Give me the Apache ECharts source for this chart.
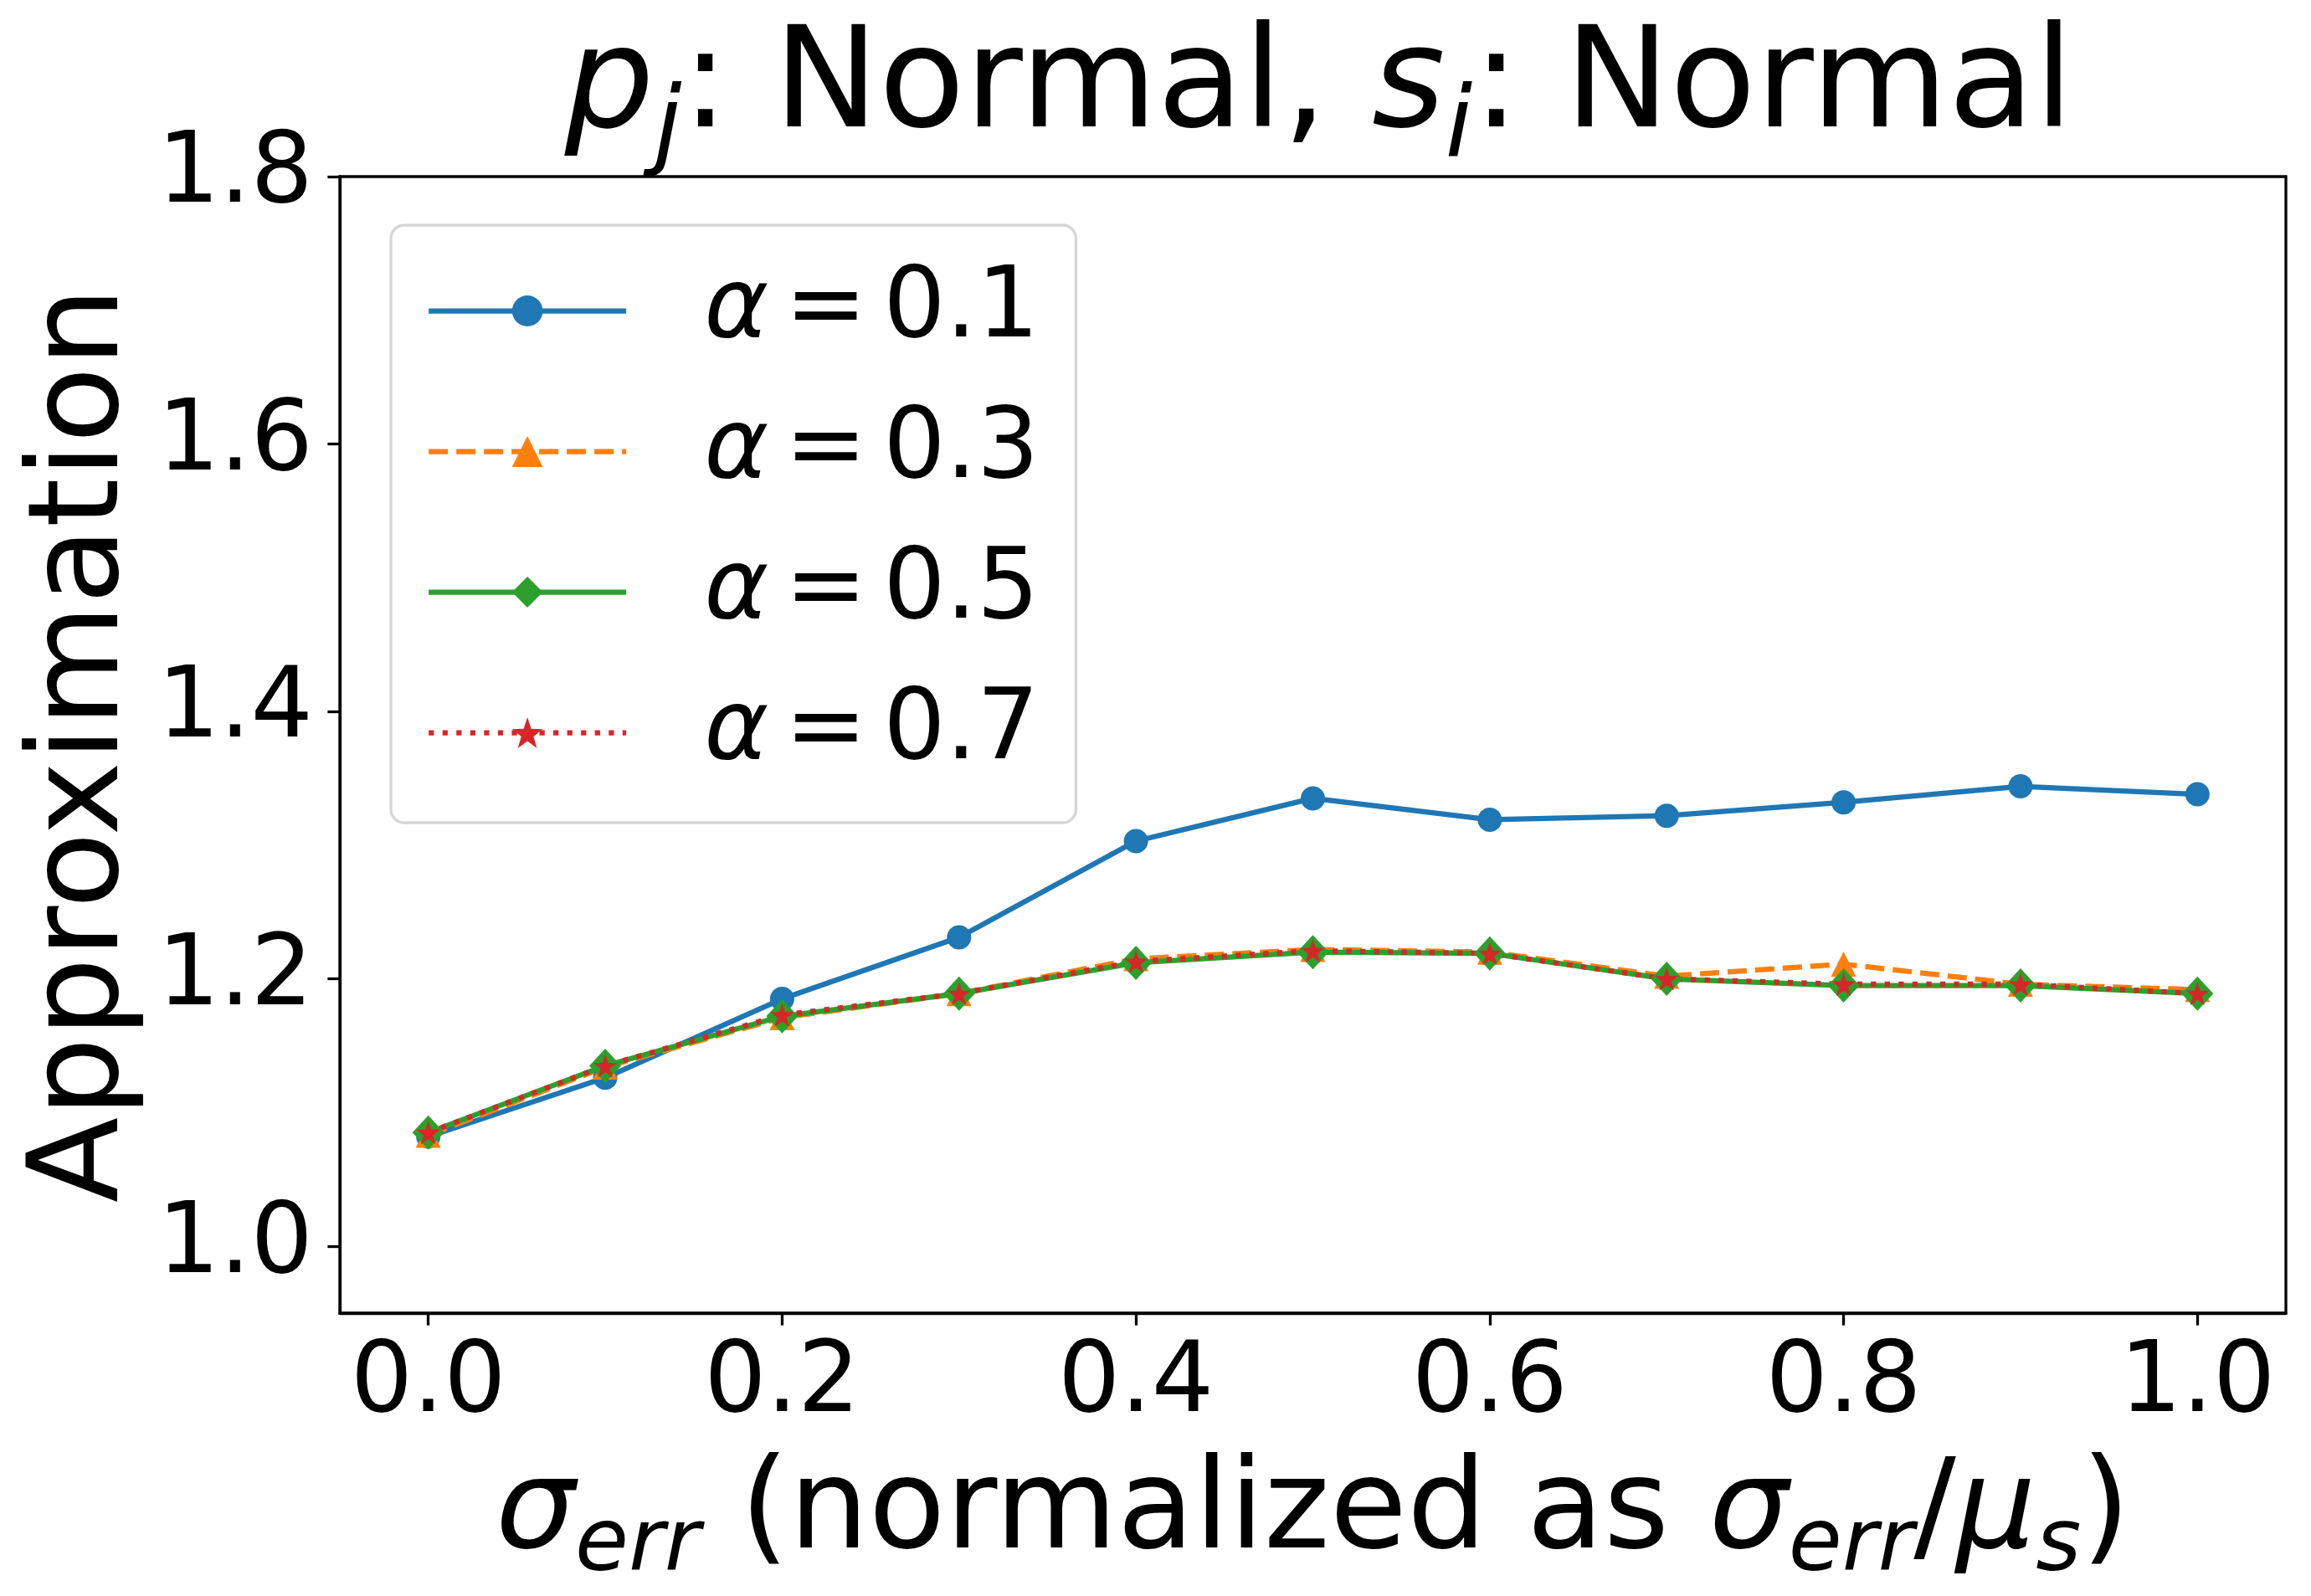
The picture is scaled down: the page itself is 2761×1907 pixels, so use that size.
<!DOCTYPE html>
<html>
<head>
<meta charset="utf-8">
<title>Approximation vs sigma_err</title>
<script src="https://cdn.jsdelivr.net/npm/echarts@6.0.0/dist/echarts.min.js"></script>
<style>
  html, body { margin: 0; padding: 0; background: #fff; }
  #chart { width: 2761px; height: 1907px; }
</style>
</head>
<body>
<div id="chart"></div>
<script>
// values
var sigmaErr = [0.0, 0.1, 0.2, 0.3, 0.4, 0.5, 0.6, 0.7, 0.8, 0.9, 1.0];
var alpha01 = [1.082, 1.126, 1.185, 1.231, 1.303, 1.335, 1.319, 1.322, 1.332, 1.344, 1.338];
var alpha03 = [1.083, 1.134, 1.171, 1.189, 1.215, 1.222, 1.220, 1.202, 1.211, 1.196, 1.192];
var alpha05 = [1.085, 1.135, 1.172, 1.189, 1.212, 1.220, 1.219, 1.200, 1.195, 1.195, 1.189];
var alpha07 = [1.085, 1.135, 1.173, 1.189, 1.213, 1.221, 1.219, 1.200, 1.196, 1.196, 1.189];
var seriesNames = ['α = 0.1', 'α = 0.3', 'α = 0.5', 'α = 0.7'];
var xTicks = [0.0, 0.2, 0.4, 0.6, 0.8, 1.0];
var yTicks = [1.0, 1.2, 1.4, 1.6, 1.8];

var FONT = 'DejaVu Sans';
var LW = 6.25;
var starPath = 'path://M0,-10 L2.35,-3.24 L9.51,-3.09 L3.8,1.24 L5.88,8.09 L0,4 L-5.88,8.09 L-3.8,1.24 L-9.51,-3.09 L-2.35,-3.24 Z';

function pairs(ys) {
    var out = [];
    for (var i = 0; i < sigmaErr.length; i++) {
        out.push([sigmaErr[i], ys[i]]);
    }
    return out;
}

var myChart = echarts.init(document.getElementById('chart'), null, {renderer: 'canvas'});

myChart.setOption({
    animation: false,
    backgroundColor: '#ffffff',
    grid: {
        left: 406, right: 30, top: 211, bottom: 338,
        outerBoundsMode: 'none', // keep the plot box fixed, labels may go outside
        show: true, borderColor: '#000', borderWidth: 3.3, backgroundColor: 'transparent'
    },
    // title drawn as rich text so the subscripts can sit below the baseline
    graphic: [{
        type: 'text',
        x: 1576,
        y: 107,
        style: {
            text: '{i|p}{sub|j}: Normal, {i|s}{sub|i}: Normal',
            fontFamily: FONT,
            fontSize: 168,
            lineHeight: 168,
            fill: '#000',
            align: 'center',
            verticalAlign: 'middle',
            rich: {
                i: {fontFamily: FONT, fontSize: 168, lineHeight: 168, fontStyle: 'italic'},
                sub: {fontFamily: FONT, fontSize: 118, lineHeight: 118, fontStyle: 'italic', padding: [98, 0, 0, 0]}
            }
        }
    }],
    legend: {
        orient: 'vertical',
        left: 467,
        top: 269,
        padding: [44, 44, 49, 42],
        backgroundColor: '#fff',
        borderColor: '#d6d6d6',
        borderWidth: 3.3,
        borderRadius: 16,
        itemWidth: 236,
        itemHeight: 46,
        itemGap: 51,
        selectedMode: false,
        data: seriesNames,
        lineStyle: {width: LW},
        formatter: function (name) {
            return name.replace(/ /g, '\u2006').replace('α', '{i|α}');
        },
        textStyle: {
            fontFamily: FONT,
            fontSize: 117,
            lineHeight: 100,
            color: '#000',
            padding: [0, 0, 0, 88],
            rich: {
                i: {fontFamily: FONT, fontSize: 117, lineHeight: 100, fontStyle: 'italic', color: '#000'}
            }
        }
    },
    xAxis: {
        type: 'value',
        min: -0.05,
        max: 1.05,
        splitLine: {show: false},
        axisLine: {show: true, onZero: false, lineStyle: {color: '#000', width: 3.3}},
        axisTick: {show: true, customValues: xTicks, length: 14.6, lineStyle: {color: '#000', width: 3.3}},
        axisLabel: {
            customValues: xTicks,
            margin: 28,
            fontFamily: FONT,
            fontSize: 117,
            lineHeight: 117,
            color: '#000',
            formatter: function (v) { return v.toFixed(1); }
        },
        name: '{i|σ}{sub|err} (normalized as {i|σ}{sub|err}/{i|μ}{sub|s})',
        nameLocation: 'middle',
        nameGap: 128,
        nameTextStyle: {
            fontFamily: FONT,
            fontSize: 150,
            lineHeight: 150,
            color: '#000',
            rich: {
                i: {fontFamily: FONT, fontSize: 150, lineHeight: 150, fontStyle: 'italic', color: '#000'},
                sub: {fontFamily: FONT, fontSize: 104, lineHeight: 104, fontStyle: 'italic', color: '#000', padding: [78, 0, 0, 0]}
            }
        }
    },
    yAxis: {
        type: 'value',
        min: 0.95,
        max: 1.8,
        splitLine: {show: false},
        axisLine: {show: true, onZero: false, lineStyle: {color: '#000', width: 3.3}},
        axisTick: {show: true, customValues: yTicks, length: 14.6, lineStyle: {color: '#000', width: 3.3}},
        axisLabel: {
            customValues: yTicks,
            margin: 32,
            fontFamily: FONT,
            fontSize: 117,
            lineHeight: 117,
            color: '#000',
            formatter: function (v) { return v.toFixed(1); }
        },
        name: 'Approximation',
        nameLocation: 'middle',
        nameGap: 230,
        nameTextStyle: {fontFamily: FONT, fontSize: 150, lineHeight: 150, color: '#000'}
    },
    series: [
        {
            name: seriesNames[0],
            type: 'line',
            data: pairs(alpha01),
            symbol: 'circle',
            symbolSize: 29,
            itemStyle: {color: '#1f77b4'},
            lineStyle: {color: '#1f77b4', width: LW, type: 'solid'}
        },
        {
            name: seriesNames[1],
            type: 'line',
            data: pairs(alpha03),
            symbol: 'triangle',
            symbolSize: 30,
            itemStyle: {color: '#ff7f0e'},
            lineStyle: {color: '#ff7f0e', width: LW, type: [23, 10]}
        },
        {
            name: seriesNames[2],
            type: 'line',
            data: pairs(alpha05),
            symbol: 'diamond',
            symbolSize: [38, 41],
            itemStyle: {color: '#2ca02c'},
            lineStyle: {color: '#2ca02c', width: LW, type: 'solid'}
        },
        {
            name: seriesNames[3],
            type: 'line',
            data: pairs(alpha07),
            symbol: starPath,
            symbolSize: 28,
            itemStyle: {color: '#d62728'},
            lineStyle: {color: '#d62728', width: LW, type: [6.25, 10.3]}
        }
    ]
});
</script>
</body>
</html>
